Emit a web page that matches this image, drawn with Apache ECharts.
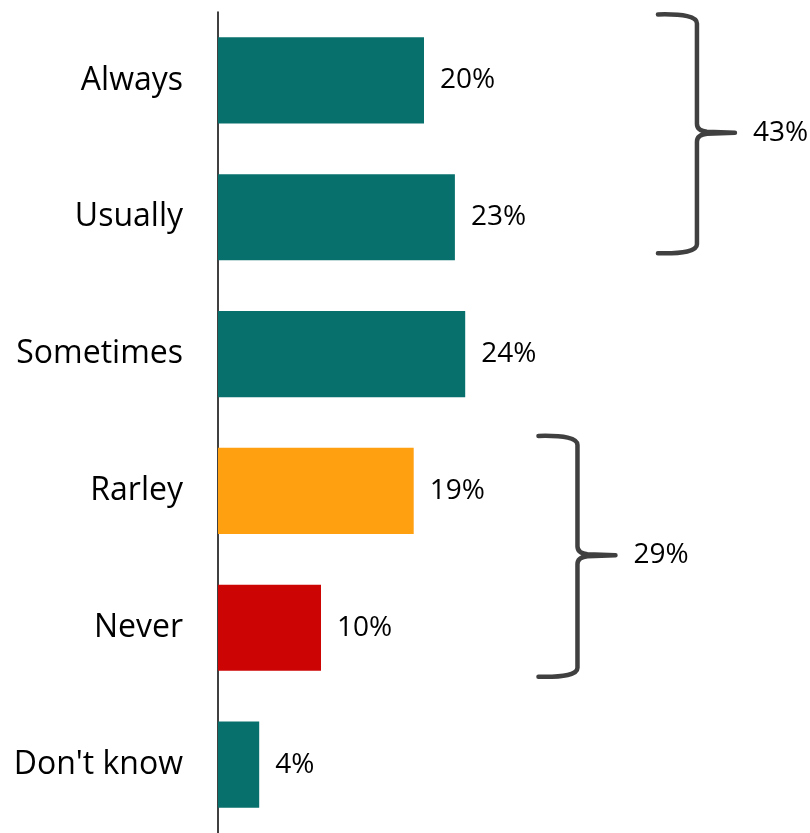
<!DOCTYPE html>
<html>
<head>
<meta charset="utf-8">
<style>
  html, body { margin: 0; padding: 0; background: #ffffff; }
  #chart { width: 810px; height: 833px; }
</style>
<script src="https://cdn.jsdelivr.net/npm/echarts@6/dist/echarts.min.js"></script>
</head>
<body>
<div id="chart"></div>
<script>
// ---- data ----
const categories = ["Always", "Usually", "Sometimes", "Rarley", "Never", "Don't know"];
const values = [20, 23, 24, 19, 10, 4];
const barColors = ["#07706d", "#07706d", "#07706d", "#ffa010", "#cc0404", "#07706d"];
const groupFrom = ["Always", "Rarley"];
const groupTo = ["Usually", "Never"];

// ---- layout (not data) ----
const bracketLayout = [
  { x: 46.5, topOff: -66, botOff: 36, midOff: -16 },
  { x: 34.9, topOff: -55, botOff: 49, midOff: -4 }
];

const FONT = '"Open Sans", "Noto Sans", sans-serif';

const groupData = groupFrom.map((from, gi) => {
  const i1 = categories.indexOf(from);
  const i2 = categories.indexOf(groupTo[gi]);
  let sum = 0;
  for (let k = i1; k <= i2; k++) sum += values[k];
  return [i1, i2, sum];
});

function bracketPath(xArm, xV, xTip, top, mid, bot) {
  const r = 9;
  return [
    'M', xArm, top,
    'Q', xV, top - 1, xV, top + r,
    'L', xV, mid - r,
    'Q', xV, mid - 2, xV + 10, mid - 1,
    'L', xTip, mid,
    'L', xV + 10, mid + 1,
    'Q', xV, mid + 2, xV, mid + r,
    'L', xV, bot - r,
    'Q', xV, bot + 1, xArm, bot
  ].join(' ');
}

const chart = echarts.init(document.getElementById('chart'), null, { renderer: 'canvas' });

chart.setOption({
  animation: false,
  backgroundColor: '#ffffff',
  grid: { left: 218, top: 12, width: 515, height: 825 },
  xAxis: { type: 'value', min: 0, max: 50, show: false },
  yAxis: {
    type: 'category',
    data: categories,
    inverse: true,
    axisLine: { show: true, lineStyle: { color: '#000000', width: 1.5 } },
    axisTick: { show: false },
    axisLabel: { color: '#000000', fontSize: 32, fontFamily: FONT, margin: 35 },
    splitLine: { show: false }
  },
  series: [{
    type: 'bar',
    data: values.map((v, i) => ({ value: v, itemStyle: { color: barColors[i] } })),
    barCategoryGap: '37%',
    label: {
      show: true, position: 'right', distance: 16,
      formatter: p => p.value + '%',
      color: '#000000', fontSize: 28, fontFamily: FONT
    }
  }, {
    type: 'custom',
    clip: false,
    silent: true,
    data: groupData,
    encode: { y: [0, 1] },
    renderItem: function (params, api) {
      const L = bracketLayout[params.dataIndex];
      const c1 = api.coord([0, api.value(0)])[1];
      const c2 = api.coord([0, api.value(1)])[1];
      const xV = api.coord([L.x, 0])[0];
      const top = c1 + L.topOff;
      const bot = c2 + L.botOff;
      const mid = (c1 + c2) / 2 + L.midOff;
      return {
        type: 'group',
        children: [{
          type: 'path',
          shape: { pathData: bracketPath(xV - 39, xV, xV + 38, top, mid, bot) },
          style: { fill: null, stroke: '#404040', lineWidth: 4.5, lineCap: 'round', lineJoin: 'round' }
        }, {
          type: 'text',
          x: xV + 56, y: mid,
          style: {
            text: api.value(2) + '%', fill: '#000000',
            font: '28px ' + FONT, verticalAlign: 'middle', align: 'left'
          }
        }]
      };
    }
  }]
});
</script>
</body>
</html>
